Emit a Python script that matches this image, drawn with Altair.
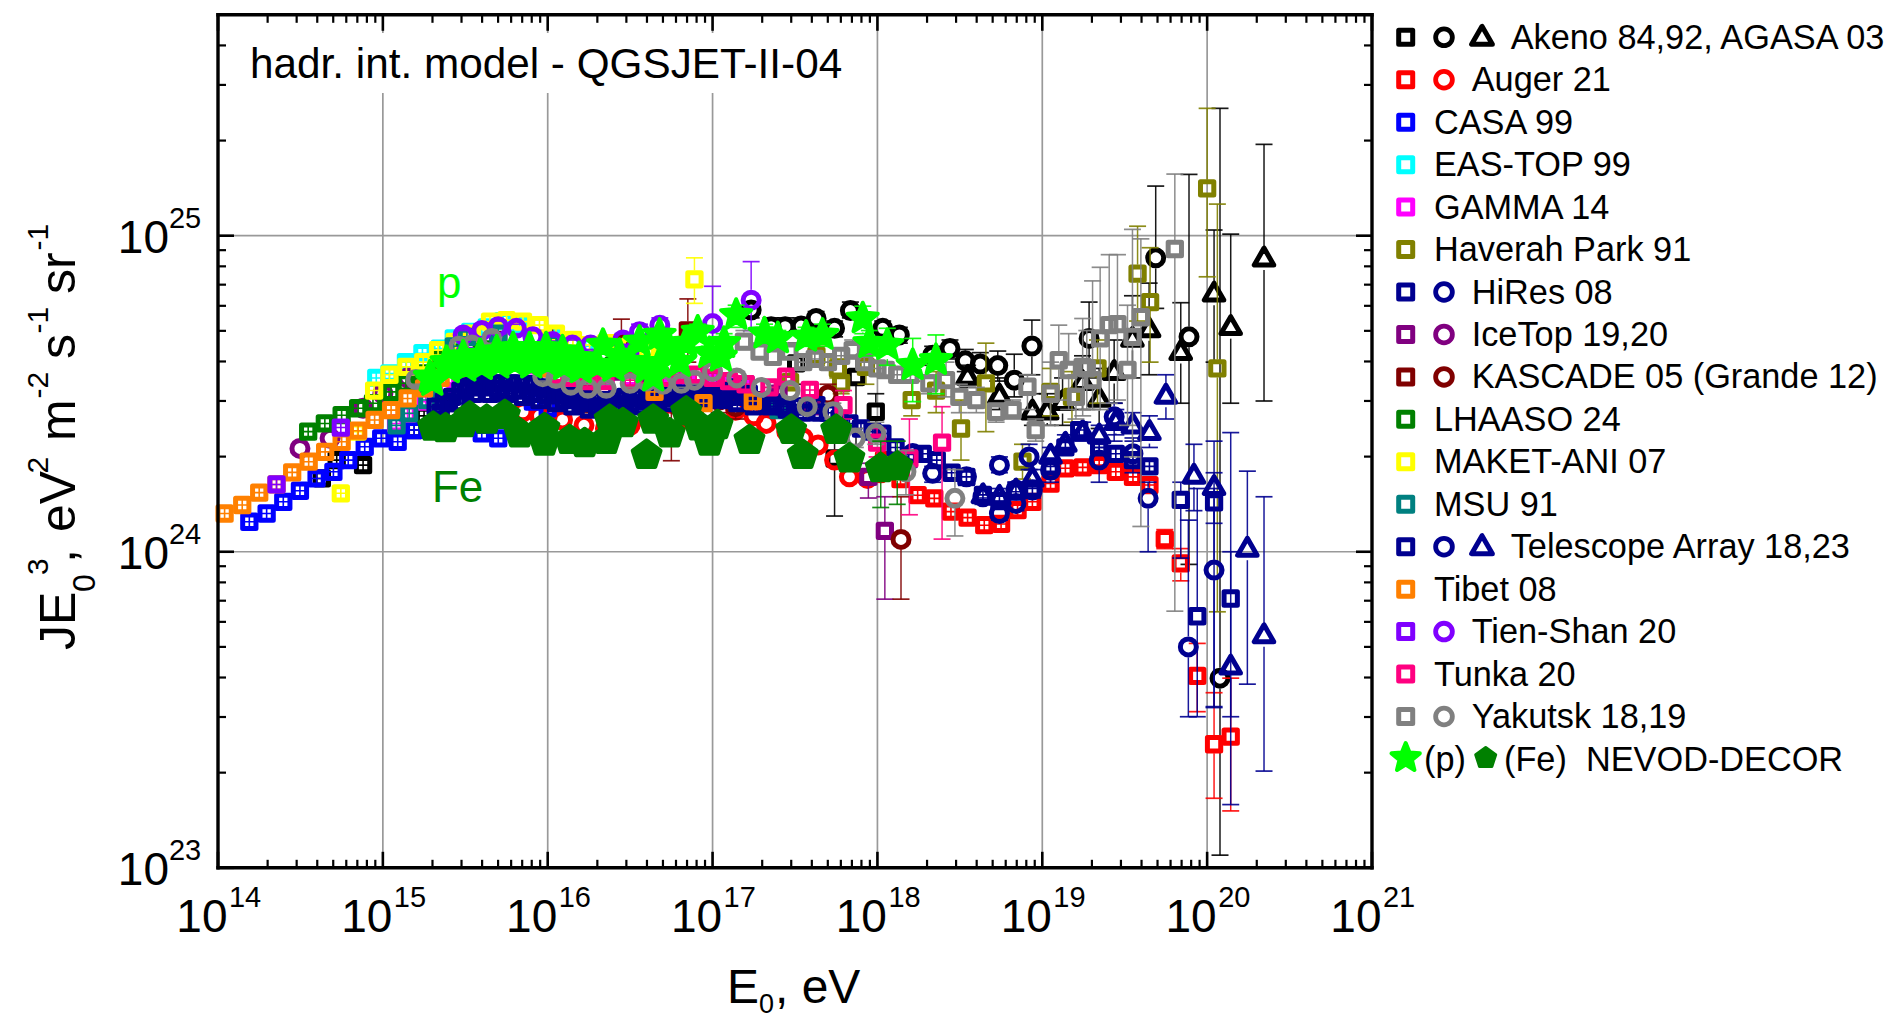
import altair as alt
import pandas as pd

FONT = "Liberation Sans"
W, H = 1154, 853
X0, Y0 = 218, 14.8
DEC_Y = 316.0

# ---------- values: log10(E0/eV), log10(JE^3) ----------
akeno_sq_E = [14.63, 14.72, 14.88, 15.19, 15.25, 15.35]
akeno_sq_J = [24.232, 24.29, 24.274, 24.385, 24.43, 24.46]
akeno_sqb_E = [17.507, 17.74, 17.87, 17.99]
akeno_sqb_J = [24.596, 24.295, 24.553, 24.443]
akeno_sqb_U = [24.66, 24.36, 24.62, 24.5]
akeno_sqb_L = [24.53, 24.113, 24.26, 24.39]

akeno_c_E = [17.234, 17.355, 17.44, 17.537, 17.628, 17.74, 17.836, 18.032, 18.133, 18.335, 18.44, 18.533, 18.624, 18.73, 18.83, 18.937, 19.284, 19.688, 19.89, 20.078]
akeno_c_J = [24.765, 24.712, 24.712, 24.714, 24.738, 24.707, 24.763, 24.707, 24.686, 24.622, 24.643, 24.604, 24.594, 24.589, 24.543, 24.651, 24.675, 24.93, 24.68, 23.60]
akeno_c_U = [24.79, 24.74, 24.74, 24.74, 24.76, 24.73, 24.79, 24.73, 24.71, 24.65, 24.67, 24.64, 24.63, 24.635, 24.625, 24.733, 24.79, 25.157, 25.194, 25.403]
akeno_c_L = [24.74, 24.69, 24.69, 24.69, 24.71, 24.68, 24.74, 24.68, 24.66, 24.59, 24.61, 24.57, 24.55, 24.54, 24.49, 24.56, 24.55, 24.77, 23.96, 23.04]

agasa_E = [18.547, 18.74, 18.94, 19.03, 19.123, 19.244, 19.345, 19.436, 19.547, 19.648, 19.84, 20.042, 20.143, 20.345]
agasa_J = [24.56, 24.50, 24.45, 24.45, 24.48, 24.543, 24.49, 24.575, 24.68, 24.71, 24.638, 24.823, 24.717, 24.934]
agasa_U = [24.59, 24.55, 24.5, 24.5, 24.55, 24.62, 24.58, 24.67, 24.81, 24.85, 24.788, 25.018, 25.005, 25.289]
agasa_L = [24.52, 24.45, 24.4, 24.4, 24.4, 24.45, 24.39, 24.47, 24.55, 24.56, 24.47, 24.6, 24.47, 24.477]

auger_sq_E = [18.04, 18.14, 18.244, 18.345, 18.446, 18.547, 18.648, 18.75, 18.85, 18.94, 19.05, 19.14, 19.245, 19.345, 19.446, 19.55, 19.65]
auger_sq_J = [24.29, 24.23, 24.179, 24.169, 24.127, 24.108, 24.084, 24.088, 24.132, 24.158, 24.216, 24.264, 24.267, 24.274, 24.253, 24.237, 24.211]
auger_sqb_E = [19.743, 19.84, 19.94, 20.042, 20.143]
auger_sqb_J = [24.04, 23.963, 23.607, 23.391, 23.415]
auger_sqb_U = [24.07, 24.01, 23.71, 23.554, 23.6]
auger_sqb_L = [24.01, 23.908, 23.494, 23.22, 23.18]

auger_c_E = [15.85, 15.95, 16.09, 16.22, 16.35, 16.5, 16.62, 16.74, 16.85, 16.98, 17.14, 17.25, 17.325, 17.45, 17.55, 17.64, 17.74, 17.83, 17.94, 18.02]
auger_c_J = [24.443, 24.43, 24.417, 24.40, 24.39, 24.40, 24.41, 24.42, 24.42, 24.44, 24.448, 24.43, 24.406, 24.38, 24.36, 24.338, 24.29, 24.237, 24.232, 24.25]

casa_E = [14.19, 14.295, 14.396, 14.497, 14.598, 14.70, 14.79, 14.89, 14.99, 15.09, 15.19, 15.295, 15.6, 15.7, 15.91, 16.0]
casa_J = [24.095, 24.121, 24.158, 24.193, 24.232, 24.253, 24.29, 24.332, 24.359, 24.348, 24.385, 24.385, 24.375, 24.359, 24.475, 24.454]

eas_E = [14.96, 15.04, 15.14, 15.24, 15.345, 15.43, 15.53, 15.63, 15.73, 15.83, 16.03, 16.23, 16.43]
eas_J = [24.55, 24.564, 24.6, 24.628, 24.643, 24.675, 24.696, 24.71, 24.73, 24.72, 24.68, 24.65, 24.63]

gamma_E = [15.08, 15.15, 15.26, 15.36, 15.47, 15.62, 15.72, 15.82, 15.92, 16.02, 16.15, 16.25, 16.35, 16.5, 16.62, 16.75, 16.85, 17.0, 17.1, 17.2]
gamma_J = [24.406, 24.437, 24.475, 24.51, 24.55, 24.575, 24.6, 24.6, 24.59, 24.58, 24.57, 24.56, 24.55, 24.55, 24.55, 24.55, 24.55, 24.54, 24.53, 24.52]

hav_E = [17.47, 17.63, 17.76, 17.78, 17.93, 18.208, 18.356, 18.507, 18.658, 18.88, 19.05, 19.18, 19.335, 19.578, 19.654, 20.0, 20.062]
hav_J = [24.537, 24.62, 24.58, 24.533, 24.585, 24.48, 24.51, 24.39, 24.533, 24.285, 24.506, 24.49, 24.58, 24.88, 24.79, 25.15, 24.58]
hav_U = [24.56, 24.65, 24.61, 24.56, 24.64, 24.54, 24.57, 24.48, 24.66, 24.34, 24.58, 24.57, 24.67, 25.03, 24.962, 25.403, 25.10]
hav_L = [24.51, 24.59, 24.55, 24.5, 24.53, 24.43, 24.44, 24.29, 24.38, 24.23, 24.43, 24.41, 24.47, 24.73, 24.6, 24.87, 23.81]

navy_a_E = [15.32, 15.37, 15.42, 15.47, 15.52, 15.57, 15.62, 15.67, 15.72, 15.77, 15.82, 15.87, 15.92, 15.97, 16.02, 16.07, 16.12, 16.17, 16.22, 16.27, 16.32, 16.37, 16.42, 16.47, 16.52, 16.57, 16.62, 16.67, 16.72, 16.77, 16.82, 16.87, 16.92, 16.97, 17.02, 17.07, 17.14, 17.22, 17.3, 17.37, 17.43, 17.5, 17.57, 17.63, 17.7, 17.77, 17.83, 17.9, 17.97, 18.03, 18.11, 18.19, 18.275, 18.36, 18.45]
navy_a_J = [24.459, 24.475, 24.49, 24.51, 24.527, 24.53, 24.533, 24.533, 24.533, 24.533, 24.533, 24.53, 24.525, 24.52, 24.512, 24.505, 24.497, 24.49, 24.483, 24.48, 24.48, 24.48, 24.485, 24.49, 24.49, 24.49, 24.495, 24.5, 24.5, 24.5, 24.5, 24.5, 24.505, 24.506, 24.506, 24.51, 24.52, 24.5, 24.48, 24.47, 24.46, 24.46, 24.46, 24.464, 24.44, 24.42, 24.406, 24.39, 24.38, 24.374, 24.33, 24.292, 24.31, 24.29, 24.25]
navy_b_E = [15.35, 15.45, 15.55, 15.65, 15.75, 15.85, 15.95, 16.05, 16.15, 16.25, 16.35, 16.45, 16.55, 16.65, 16.75, 16.85, 16.95, 17.05, 17.15, 17.25]
navy_b_J = [24.44, 24.47, 24.5, 24.5, 24.5, 24.49, 24.48, 24.47, 24.46, 24.45, 24.45, 24.46, 24.46, 24.47, 24.47, 24.48, 24.48, 24.48, 24.47, 24.46]
navy_d_E = [15.4, 15.5, 15.6, 15.7, 15.8, 15.9, 16.0, 16.1, 16.2, 16.3, 16.4, 16.5, 16.6, 16.7, 16.8, 16.9, 17.0, 17.1, 17.2, 17.35, 17.45, 17.55, 17.65]
navy_d_J = [24.47, 24.515, 24.52, 24.515, 24.51, 24.5, 24.495, 24.48, 24.47, 24.46, 24.465, 24.47, 24.475, 24.485, 24.485, 24.49, 24.49, 24.49, 24.49, 24.46, 24.45, 24.44, 24.44]
navy_c_E = [18.54, 18.64, 18.74, 18.84, 18.94, 19.05, 19.14, 19.224, 19.345, 19.446, 19.55, 19.65]
navy_c_J = [24.237, 24.18, 24.16, 24.19, 24.2, 24.27, 24.33, 24.385, 24.33, 24.31, 24.29, 24.27]
navy_sqb_E = [19.84, 19.94, 20.042, 20.143]
navy_sqb_J = [24.164, 23.796, 24.156, 23.852]
navy_sqb_U = [24.22, 24.2, 24.25, 24.0]
navy_sqb_L = [23.98, 23.478, 24.09, 23.478]

navy_o_E = [18.214, 18.335, 18.54, 18.64, 18.74, 18.74, 18.84, 18.84, 18.92, 18.94, 19.05, 19.345, 19.436, 19.55, 19.642, 19.886, 20.042]
navy_o_J = [24.311, 24.248, 24.237, 24.174, 24.274, 24.121, 24.195, 24.153, 24.30, 24.195, 24.258, 24.29, 24.427, 24.31, 24.169, 23.699, 23.942]
navy_o_U = [24.33, 24.27, 24.26, 24.2, 24.3, 24.14, 24.22, 24.18, 24.34, 24.22, 24.29, 24.33, 24.47, 24.36, 24.22, 24.1, 24.2]
navy_o_L = [24.29, 24.22, 24.21, 24.15, 24.25, 24.1, 24.17, 24.13, 24.26, 24.17, 24.22, 24.22, 24.35, 24.25, 24.0, 23.478, 23.507]

ta_tri_E = [18.64, 18.74, 18.84, 18.94, 19.05, 19.14, 19.245, 19.345, 19.446, 19.55, 19.65, 19.75, 19.92, 20.042, 20.143, 20.244, 20.345]
ta_tri_J = [24.185, 24.18, 24.2, 24.237, 24.31, 24.348, 24.385, 24.374, 24.417, 24.406, 24.385, 24.5, 24.247, 24.211, 23.643, 24.016, 23.742]
ta_tri_U = [24.2, 24.2, 24.22, 24.26, 24.33, 24.37, 24.41, 24.4, 24.45, 24.44, 24.43, 24.56, 24.34, 24.35, 24.377, 24.255, 24.174]
ta_tri_L = [24.17, 24.16, 24.18, 24.21, 24.28, 24.32, 24.35, 24.34, 24.37, 24.35, 24.33, 24.42, 24.13, 23.51, 23.2, 23.581, 23.306]

ice_sq_E = [15.2, 15.4, 15.6, 15.8, 16.0, 16.2, 16.4, 16.6, 16.8, 17.0, 17.2, 17.4, 17.6]
ice_sq_J = [24.55, 24.6, 24.62, 24.62, 24.6, 24.58, 24.57, 24.56, 24.56, 24.55, 24.53, 24.5, 24.46]
ice_sqb_E = [17.945, 18.045]
ice_sqb_J = [24.237, 24.066]
ice_sqb_U = [24.28, 24.174]
ice_sqb_L = [24.17, 23.85]
ice_c_E = [14.497, 14.68, 14.88, 15.0, 15.15]
ice_c_J = [24.327, 24.359, 24.454, 24.5, 24.55]

kas_sq_E = [15.5, 15.7, 16.03, 16.24, 16.447, 16.75, 16.85]
kas_sq_J = [24.6, 24.67, 24.66, 24.5, 24.66, 24.38, 24.7]
kas_sq_U = [24.62, 24.69, 24.71, 24.56, 24.736, 24.47, 24.8]
kas_sq_L = [24.58, 24.64, 24.6, 24.44, 24.6, 24.288, 24.6]
kas_c_E = [17.04, 17.14, 17.7, 18.143]
kas_c_J = [24.48, 24.459, 24.496, 24.039]
kas_c_U = [24.52, 24.5, 24.53, 24.174]
kas_c_L = [24.44, 24.42, 24.46, 23.85]

lhaaso_E = [14.547, 14.648, 14.75, 14.85, 14.94, 15.05, 15.14, 15.24, 15.345, 15.45, 15.6, 15.8, 16.0, 16.2, 16.4]
lhaaso_J = [24.38, 24.406, 24.432, 24.454, 24.47, 24.506, 24.533, 24.564, 24.607, 24.63, 24.64, 24.63, 24.61, 24.6, 24.59]

maket_E = [14.745, 14.846, 14.947, 15.04, 15.143, 15.245, 15.335, 15.436, 15.54, 15.65, 15.75, 15.85, 15.95, 16.05, 16.153, 16.254, 16.355, 16.5, 16.6, 16.7]
maket_J = [24.185, 24.38, 24.51, 24.56, 24.585, 24.6, 24.638, 24.664, 24.69, 24.728, 24.733, 24.728, 24.717, 24.69, 24.67, 24.654, 24.66, 24.65, 24.64, 24.63]
maket_b_E = [16.89]
maket_b_J = [24.862]
maket_b_U = [24.93]
maket_b_L = [24.786]

msu_E = [15.083, 15.16, 15.27, 15.43, 15.51, 15.7, 16.02, 17.4]
msu_J = [24.40, 24.438, 24.48, 24.65, 24.68, 24.69, 24.66, 24.448]

tibet_E = [14.04, 14.147, 14.25, 14.355, 14.45, 14.55, 14.65, 14.75, 14.85, 14.95, 15.05, 15.15, 15.25, 15.35, 15.45, 15.55, 15.65, 15.75, 16.0, 16.3, 16.648, 16.945, 17.244]
tibet_J = [24.121, 24.148, 24.187, 24.213, 24.251, 24.285, 24.316, 24.348, 24.383, 24.417, 24.448, 24.485, 24.517, 24.55, 24.58, 24.6, 24.6, 24.6, 24.58, 24.56, 24.506, 24.47, 24.477]

tien_sq_E = [14.355, 14.745, 15.5, 16.0, 16.5]
tien_sq_J = [24.213, 24.393, 24.62, 24.64, 24.63]
tien_c_E = [15.487, 15.6, 15.7, 15.81, 15.91, 16.03, 16.15, 16.26, 16.456, 16.557, 16.68, 17.0, 17.234]
tien_c_J = [24.686, 24.7, 24.712, 24.707, 24.68, 24.665, 24.654, 24.654, 24.67, 24.696, 24.717, 24.722, 24.796]
tien_c_U = [24.7, 24.72, 24.73, 24.72, 24.7, 24.68, 24.67, 24.67, 24.69, 24.72, 24.74, 24.84, 24.918]
tien_c_L = [24.67, 24.68, 24.69, 24.69, 24.66, 24.65, 24.64, 24.64, 24.65, 24.67, 24.69, 24.63, 24.7]

tunka_E = [16.05, 16.14, 16.24, 16.35, 16.5, 16.6, 16.7, 16.8, 16.9, 17.0, 17.1, 17.2, 17.345, 17.446, 17.59]
tunka_J = [24.56, 24.55, 24.54, 24.54, 24.543, 24.55, 24.55, 24.56, 24.56, 24.55, 24.54, 24.53, 24.52, 24.554, 24.512]
tunka_b_E = [17.794, 17.998, 18.194, 18.392]
tunka_b_J = [24.464, 24.345, 24.295, 24.345]
tunka_b_U = [24.51, 24.39, 24.42, 24.459]
tunka_b_L = [24.42, 24.3, 24.117, 24.04]

yak_sq_E = [17.19, 17.285, 17.366, 17.466, 17.85, 18.05, 18.315, 18.416, 18.497, 18.6, 18.72, 18.82, 18.91, 18.96, 19.05, 19.1, 19.16, 19.204, 19.245, 19.27, 19.305, 19.351, 19.406, 19.456, 19.517, 19.547, 19.598, 19.804]
yak_sq_J = [24.665, 24.633, 24.617, 24.633, 24.638, 24.575, 24.533, 24.543, 24.49, 24.48, 24.443, 24.448, 24.522, 24.385, 24.5, 24.606, 24.575, 24.49, 24.585, 24.58, 24.543, 24.675, 24.717, 24.72, 24.575, 24.68, 24.742, 24.958]
yak_sq_U = [24.7, 24.66, 24.64, 24.66, 24.67, 24.6, 24.56, 24.6, 24.53, 24.52, 24.47, 24.48, 24.56, 24.42, 24.6, 24.717, 24.69, 24.56, 24.738, 24.7, 24.857, 24.9, 24.94, 24.94, 24.78, 25.02, 24.99, 25.195]
yak_sq_L = [24.64, 24.61, 24.6, 24.61, 24.61, 24.55, 24.5, 24.49, 24.44, 24.44, 24.41, 24.42, 24.45, 24.35, 24.4, 24.48, 24.45, 24.42, 24.43, 24.45, 24.45, 24.45, 24.47, 24.48, 24.4, 24.3, 24.08, 23.812]
yak_s_E = [17.55, 17.62, 17.7, 17.78, 17.92, 18.0, 18.12, 18.2]
yak_s_J = [24.6, 24.61, 24.6, 24.62, 24.6, 24.58, 24.56, 24.56]
yak_c_E = [15.2, 15.46, 15.54, 15.66, 15.97, 16.05, 16.14, 16.244, 16.355, 16.5, 16.6, 16.7, 16.81, 16.89, 17.0, 17.147, 17.295, 17.47, 17.574, 17.73, 17.866, 17.99, 18.173, 18.47]
yak_c_J = [24.545, 24.65, 24.654, 24.675, 24.554, 24.548, 24.527, 24.517, 24.517, 24.533, 24.54, 24.53, 24.533, 24.543, 24.57, 24.55, 24.52, 24.51, 24.459, 24.443, 24.359, 24.374, 24.253, 24.169]
yak_c_U = [24.56, 24.67, 24.67, 24.69, 24.57, 24.56, 24.54, 24.53, 24.53, 24.55, 24.55, 24.55, 24.55, 24.56, 24.59, 24.57, 24.54, 24.53, 24.48, 24.47, 24.39, 24.41, 24.32, 24.26]
yak_c_L = [24.53, 24.63, 24.64, 24.66, 24.54, 24.53, 24.51, 24.5, 24.5, 24.52, 24.53, 24.51, 24.52, 24.53, 24.55, 24.53, 24.5, 24.49, 24.44, 24.42, 24.33, 24.34, 24.18, 24.05]

fe_E = [15.305, 15.38, 15.487, 15.527, 15.63, 15.74, 15.83, 15.98, 15.98, 16.133, 16.224, 16.355, 16.376, 16.456, 16.6, 16.64, 16.74, 16.84, 16.92, 16.98, 17.03, 17.224, 17.477, 17.547, 17.75, 17.83, 18.02, 18.12]
fe_J = [24.395, 24.39, 24.406, 24.427, 24.417, 24.432, 24.374, 24.348, 24.39, 24.353, 24.343, 24.353, 24.417, 24.406, 24.306, 24.417, 24.374, 24.443, 24.396, 24.348, 24.4, 24.353, 24.385, 24.306, 24.385, 24.295, 24.264, 24.269]
fe_U = [24.42, 24.42, 24.43, 24.45, 24.44, 24.46, 24.4, 24.37, 24.42, 24.38, 24.37, 24.38, 24.44, 24.43, 24.33, 24.44, 24.4, 24.47, 24.42, 24.37, 24.43, 24.38, 24.41, 24.33, 24.41, 24.32, 24.35, 24.35]
fe_L = [24.37, 24.37, 24.38, 24.4, 24.39, 24.41, 24.35, 24.32, 24.36, 24.33, 24.32, 24.33, 24.39, 24.38, 24.28, 24.39, 24.35, 24.42, 24.37, 24.32, 24.37, 24.33, 24.36, 24.28, 24.36, 24.27, 24.14, 24.15]

star_lo_E = [15.3, 15.4, 15.5, 15.6, 15.7, 15.8, 15.9, 16.0, 16.1, 16.2, 16.3, 16.4, 16.5, 16.6, 16.64]
star_lo_J = [24.54, 24.58, 24.585, 24.59, 24.595, 24.6, 24.595, 24.6, 24.59, 24.58, 24.59, 24.585, 24.6, 24.58, 24.554]
star_E = [15.285, 15.386, 15.487, 15.59, 15.69, 15.79, 15.89, 15.99, 16.09, 16.19, 16.335, 16.436, 16.557, 16.679, 16.679, 16.74, 16.8, 16.84, 16.91, 16.98, 17.05, 17.07, 17.143, 17.315, 17.396, 17.567, 17.667, 17.911, 17.951, 18.06, 18.214, 18.355]
star_J = [24.553, 24.6, 24.617, 24.622, 24.633, 24.643, 24.643, 24.643, 24.633, 24.612, 24.654, 24.622, 24.664, 24.596, 24.686, 24.638, 24.6, 24.66, 24.696, 24.628, 24.617, 24.66, 24.749, 24.69, 24.675, 24.68, 24.686, 24.738, 24.66, 24.654, 24.59, 24.606]
star_U = [24.57, 24.62, 24.63, 24.64, 24.65, 24.66, 24.66, 24.66, 24.65, 24.63, 24.67, 24.64, 24.68, 24.61, 24.7, 24.65, 24.62, 24.68, 24.72, 24.65, 24.64, 24.69, 24.78, 24.72, 24.7, 24.71, 24.72, 24.777, 24.7, 24.707, 24.675, 24.686]
star_L = [24.53, 24.58, 24.6, 24.6, 24.61, 24.62, 24.62, 24.62, 24.61, 24.59, 24.63, 24.6, 24.64, 24.58, 24.66, 24.62, 24.58, 24.64, 24.67, 24.61, 24.59, 24.63, 24.71, 24.66, 24.65, 24.65, 24.65, 24.69, 24.62, 24.59, 24.475, 24.5]

# ---------- legend and labels ----------
legend_rows = ["Akeno 84,92, AGASA 03", "Auger 21", "CASA 99", "EAS-TOP 99", "GAMMA 14", "Haverah Park 91",
               "HiRes 08", "IceTop 19,20", "KASCADE 05 (Grande 12)", "LHAASO 24", "MAKET-ANI 07", "MSU 91",
               "Telescope Array 18,23", "Tibet 08", "Tien-Shan 20", "Tunka 20", "Yakutsk 18,19"]
legend_colors = ["#000000", "#ff0000", "#0000ff", "#00ffff", "#ff00ff", "#808000", "#000090", "#800080", "#800000",
                 "#008000", "#ffff00", "#008080", "#000090", "#ff8000", "#8000ff", "#ff0080", "#808080"]
legend_kinds = [3, 2, 1, 1, 1, 1, 2, 2, 2, 1, 1, 1, 3, 1, 2, 1, 2]
x_exps = [14, 15, 16, 17, 18, 19, 20, 21]
y_exps = [23, 24, 25]

BLACK, RED, BLUE, CYAN, MAG, OLIVE, NAVY, PURP, DRED, GREEN, YEL, TEAL, ORG, VIOL, PINK, GRAY, LIME = (
    "#000000", "#ff0000", "#0000ff", "#00ffff", "#ff00ff", "#808000", "#000090", "#800080", "#800000",
    "#008000", "#ffff00", "#008080", "#ff8000", "#8000ff", "#ff0080", "#808080", "#00ff00")

PENT = "M0,-1L0.951,-0.309L0.588,0.809L-0.588,0.809L-0.951,-0.309Z"
STAR = ("M0,-1L0.26,-0.36L0.951,-0.309L0.42,0.135L0.588,0.809L0,0.44L-0.588,0.809L-0.42,0.135"
        "L-0.951,-0.309L-0.26,-0.36Z")
CROSS = "M-1,0H1M0,-1V1"
CAP = "M-1,0H1"
STY = {
    "square": dict(shape="square", size=177, gu=9, gd=9, sw=5, filled=False),
    "circle": dict(shape="circle", size=256, gu=10.5, gd=10.5, sw=5, filled=False),
    "tri": dict(shape="triangle-up", size=380, gu=10, gd=13.5, sw=5, filled=False),
    "star": dict(shape=STAR, size=1000, gu=14, gd=14, sw=4, filled=True),
    "pent": dict(shape=PENT, size=860, gu=14, gd=14, sw=4, filled=True),
}

xs = alt.X("E:Q", axis=None, scale=alt.Scale(type="log", domain=[1e14, 1e21], nice=False, clamp=False))
ys = alt.Y("J:Q", axis=None, scale=alt.Scale(type="log", domain=[1e23, 5e25], nice=False))
ys2 = alt.Y2("J2:Q")


def pts(e, j):
    return pd.DataFrame({"E": [10 ** v for v in e], "J": [10 ** v for v in j]})


def group(color, kind, e, j, u=None, l=None):
    st = STY[kind]
    out = []
    base = pts(e, j)
    if u is not None:
        segs, caps = [], []
        for ev, jv, uv, lv in zip(e, j, u, l):
            top = jv + st["gu"] / DEC_Y
            bot = jv - st["gd"] / DEC_Y
            if uv > top:
                segs.append({"E": 10 ** ev, "J": 10 ** top, "J2": 10 ** uv})
            if lv < bot:
                segs.append({"E": 10 ** ev, "J": 10 ** bot, "J2": 10 ** lv})
            caps.append({"E": 10 ** ev, "J": 10 ** uv})
            caps.append({"E": 10 ** ev, "J": 10 ** lv})
        if segs:
            out.append(alt.Chart(pd.DataFrame(segs)).mark_rule(color=color, strokeWidth=1.5, opacity=0.9)
                       .encode(x=xs, y=ys, y2=ys2))
        out.append(alt.Chart(pd.DataFrame(caps)).mark_point(shape=CAP, size=289, stroke=color, strokeWidth=1.7,
                                                             filled=False, opacity=0.9).encode(x=xs, y=ys))
    elif kind == "square":
        out.append(alt.Chart(base).mark_point(shape=CROSS, size=st["size"], stroke=color, strokeWidth=1.6,
                                              filled=False, opacity=1).encode(x=xs, y=ys))
    kw = dict(shape=st["shape"], size=st["size"], strokeWidth=st["sw"], strokeJoin="round", opacity=1)
    if st["filled"]:
        kw.update(fill=color, stroke=color, filled=True, fillOpacity=1)
    else:
        kw.update(stroke=color, filled=False)
    out.append(alt.Chart(base).mark_point(**kw).encode(x=xs, y=ys))
    return out


layers = []

# grid
grid_x = pd.DataFrame({"E": [10.0 ** k for k in x_exps[1:-1]]})
grid_y = pd.DataFrame({"J": [10.0 ** k for k in y_exps[1:]]})
layers.append(alt.Chart(grid_x).mark_rule(color="#999999", strokeWidth=1.7).encode(x=xs))
layers.append(alt.Chart(grid_y).mark_rule(color="#999999", strokeWidth=1.7).encode(y=ys))
layers.append(alt.Chart(pd.DataFrame({"a": [0]})).mark_rect(color="white").encode(
    x=alt.value(252 - X0), x2=alt.value(845 - X0), y=alt.value(33 - Y0), y2=alt.value(93 - Y0)))

# data, in the order of the legend
for g in [
    (BLACK, "square", akeno_sq_E, akeno_sq_J),
    (BLACK, "square", akeno_sqb_E, akeno_sqb_J, akeno_sqb_U, akeno_sqb_L),
    (BLACK, "circle", akeno_c_E, akeno_c_J, akeno_c_U, akeno_c_L),
    (BLACK, "tri", agasa_E, agasa_J, agasa_U, agasa_L),
    (RED, "circle", auger_c_E, auger_c_J),
    (RED, "square", auger_sq_E, auger_sq_J),
    (RED, "square", auger_sqb_E, auger_sqb_J, auger_sqb_U, auger_sqb_L),
    (BLUE, "square", casa_E, casa_J),
    (CYAN, "square", eas_E, eas_J),
    (MAG, "square", gamma_E, gamma_J),
    (OLIVE, "square", hav_E, hav_J, hav_U, hav_L),
    (PURP, "square", ice_sq_E, ice_sq_J),
    (PURP, "square", ice_sqb_E, ice_sqb_J, ice_sqb_U, ice_sqb_L),
    (PURP, "circle", ice_c_E, ice_c_J),
    (DRED, "square", kas_sq_E, kas_sq_J, kas_sq_U, kas_sq_L),
    (DRED, "circle", kas_c_E, kas_c_J, kas_c_U, kas_c_L),
    (GREEN, "square", lhaaso_E, lhaaso_J),
    (YEL, "square", maket_E, maket_J),
    (YEL, "square", maket_b_E, maket_b_J, maket_b_U, maket_b_L),
    (TEAL, "square", msu_E, msu_J),
    (NAVY, "square", navy_a_E, navy_a_J),
    (NAVY, "square", navy_b_E, navy_b_J),
    (NAVY, "square", navy_d_E, navy_d_J),
    (NAVY, "square", navy_c_E, navy_c_J),
    (NAVY, "square", navy_sqb_E, navy_sqb_J, navy_sqb_U, navy_sqb_L),
    (NAVY, "circle", navy_o_E, navy_o_J, navy_o_U, navy_o_L),
    (NAVY, "tri", ta_tri_E, ta_tri_J, ta_tri_U, ta_tri_L),
    (ORG, "square", tibet_E, tibet_J),
    (VIOL, "square", tien_sq_E, tien_sq_J),
    (VIOL, "circle", tien_c_E, tien_c_J, tien_c_U, tien_c_L),
    (PINK, "square", tunka_E, tunka_J),
    (PINK, "square", tunka_b_E, tunka_b_J, tunka_b_U, tunka_b_L),
    (GRAY, "square", yak_s_E, yak_s_J),
    (GRAY, "square", yak_sq_E, yak_sq_J, yak_sq_U, yak_sq_L),
    (GRAY, "circle", yak_c_E, yak_c_J, yak_c_U, yak_c_L),
    (GREEN, "pent", fe_E, fe_J, fe_U, fe_L),
    (LIME, "star", star_lo_E, star_lo_J),
    (LIME, "star", star_E, star_J, star_U, star_L),
]:
    layers += group(*g)

# frame and inward ticks on all four sides
minor = [m * 10.0 ** k for k in range(14, 21) for m in [2, 3, 4, 5, 6, 7, 8, 9]]
minor_y = [m * 10.0 ** k for k in [23, 24, 25] for m in [2, 3, 4, 5, 6, 7, 8, 9] if m * 10.0 ** k < 5e25]
major = [10.0 ** k for k in x_exps]
major_y = [10.0 ** k for k in y_exps]


def xticks(vals, ln, w):
    d = pd.DataFrame({"E": vals})
    return [alt.Chart(d).mark_rule(color="black", strokeWidth=w).encode(x=xs, y=alt.value(H), y2=alt.value(H - ln)),
            alt.Chart(d).mark_rule(color="black", strokeWidth=w).encode(x=xs, y=alt.value(0), y2=alt.value(ln))]


def yticks(vals, ln, w):
    d = pd.DataFrame({"J": vals})
    return [alt.Chart(d).mark_rule(color="black", strokeWidth=w).encode(y=ys, x=alt.value(0), x2=alt.value(ln)),
            alt.Chart(d).mark_rule(color="black", strokeWidth=w).encode(y=ys, x=alt.value(W), x2=alt.value(W - ln))]


layers += xticks(minor, 8, 2.2) + xticks(major, 16, 2.6) + yticks(minor_y, 8, 2.2) + yticks(major_y, 16, 2.6)
one = pd.DataFrame({"a": [0]})
for a, b, c, d in [(0, W, 0, 0), (0, W, H, H), (0, 0, 0, H), (W, W, 0, H)]:
    layers.append(alt.Chart(one).mark_rule(color="black", strokeWidth=3.4, strokeCap="square").encode(
        x=alt.value(a), x2=alt.value(b), y=alt.value(c), y2=alt.value(d)))


def txt(s, x, y, size, color="black", angle=None, align="left"):
    kw = dict(font=FONT, fontSize=size, color=color, align=align, baseline="alphabetic", text=s)
    if angle is not None:
        kw["angle"] = angle
    return alt.Chart(one).mark_text(**kw).encode(x=alt.value(x - X0), y=alt.value(y - Y0))


# tick labels: positions along the axis come from the scales
dx = pd.DataFrame({"E": [10.0 ** k for k in x_exps], "big": ["10"] * len(x_exps), "sup": [str(k) for k in x_exps]})
dy = pd.DataFrame({"J": [10.0 ** k for k in y_exps], "big": ["10"] * len(y_exps), "sup": [str(k) for k in y_exps]})
layers.append(alt.Chart(dx).mark_text(font=FONT, fontSize=46, align="right", baseline="alphabetic", dx=9.5, color="black")
              .encode(x=xs, y=alt.value(931.7 - Y0), text="big:N"))
layers.append(alt.Chart(dx).mark_text(font=FONT, fontSize=29, align="left", baseline="alphabetic", dx=11, color="black")
              .encode(x=xs, y=alt.value(906.7 - Y0), text="sup:N"))
layers.append(alt.Chart(dy).mark_text(font=FONT, fontSize=46, align="right", baseline="alphabetic", dy=17.6, color="black")
              .encode(y=ys, x=alt.value(169 - X0), text="big:N"))
layers.append(alt.Chart(dy).mark_text(font=FONT, fontSize=29, align="left", baseline="alphabetic", dy=-7.4, color="black")
              .encode(y=ys, x=alt.value(169 - X0), text="sup:N"))

# in-plot text
layers.append(txt("hadr. int. model - QGSJET-II-04", 250, 78, 42.3))
layers.append(txt("p", 437, 298, 44, color=LIME))
layers.append(txt("Fe", 432, 501.7, 44, color=GREEN))

# x title
layers.append(txt("E", 727, 1003, 48))
layers.append(txt("0", 759, 1013, 27))
layers.append(txt(", eV", 775, 1003, 48))

# y title, pieces rotated to run upwards
for s, bx, by, size in [("JE", 75, 650, 50), ("0", 95, 592, 32), (",", 75, 563, 50), ("3", 48, 575, 30),
                        ("eV", 75, 532, 50), ("2", 48, 473.5, 30), ("m", 75, 441, 50), ("-2", 48, 398.5, 30),
                        ("s", 75, 359, 50), ("-1", 48, 333.5, 30), ("sr", 75, 294, 50), ("-1", 48, 250.5, 30)]:
    layers.append(txt(s, bx, by, size, angle=270))

# legend
ROW0, ROWH = 37.3, 42.45
LEG = {"square": (1405.7, "square", 196, 5), "circle": (1444, "circle", 280, 4.8), "tri": (1482, "triangle-up", 430, 5)}


def sym(kind, color, row):
    x, shape, size, sw = LEG[kind]
    yy = ROW0 + ROWH * row + (-2 if kind == "tri" else 0)
    return alt.Chart(one).mark_point(shape=shape, size=size, stroke=color, strokeWidth=sw, filled=False,
                                     strokeJoin="round", opacity=1).encode(x=alt.value(x - X0), y=alt.value(yy - Y0))


TEXT_X = {1: 1434, 2: 1471.7, 3: 1510.7}
for i, (label, col, k) in enumerate(zip(legend_rows, legend_colors, legend_kinds)):
    layers.append(sym("square", col, i))
    if k >= 2:
        layers.append(sym("circle", col, i))
    if k == 3:
        layers.append(sym("tri", col, i))
    layers.append(txt(label, TEXT_X[k], ROW0 + ROWH * i + 11.6, 34.3))

r = ROW0 + ROWH * 17
layers.append(alt.Chart(one).mark_point(shape=STAR, size=880, fill=LIME, stroke=LIME, strokeWidth=4, strokeJoin="round",
                                        filled=True, opacity=1).encode(x=alt.value(1405.7 - X0), y=alt.value(r - 1 - Y0)))
layers.append(txt("(p)", 1424, r + 11.6, 34.3))
layers.append(alt.Chart(one).mark_point(shape=PENT, size=440, fill=GREEN, stroke=GREEN, strokeWidth=3, strokeJoin="round",
                                        filled=True, opacity=1).encode(x=alt.value(1485.7 - X0), y=alt.value(r - 1 - Y0)))
layers.append(txt("(Fe)", 1504, r + 11.6, 34.3))
layers.append(txt("NEVOD-DECOR", 1586, r + 11.6, 34.3))

chart = alt.layer(*layers).properties(
    width=W, height=H, autosize="none",
    padding={"left": 210, "top": 6.8, "right": 515, "bottom": 152},
    background="white",
).configure_view(stroke=None)

chart.save("out.html", embed_options={"renderer": "svg", "actions": False})
